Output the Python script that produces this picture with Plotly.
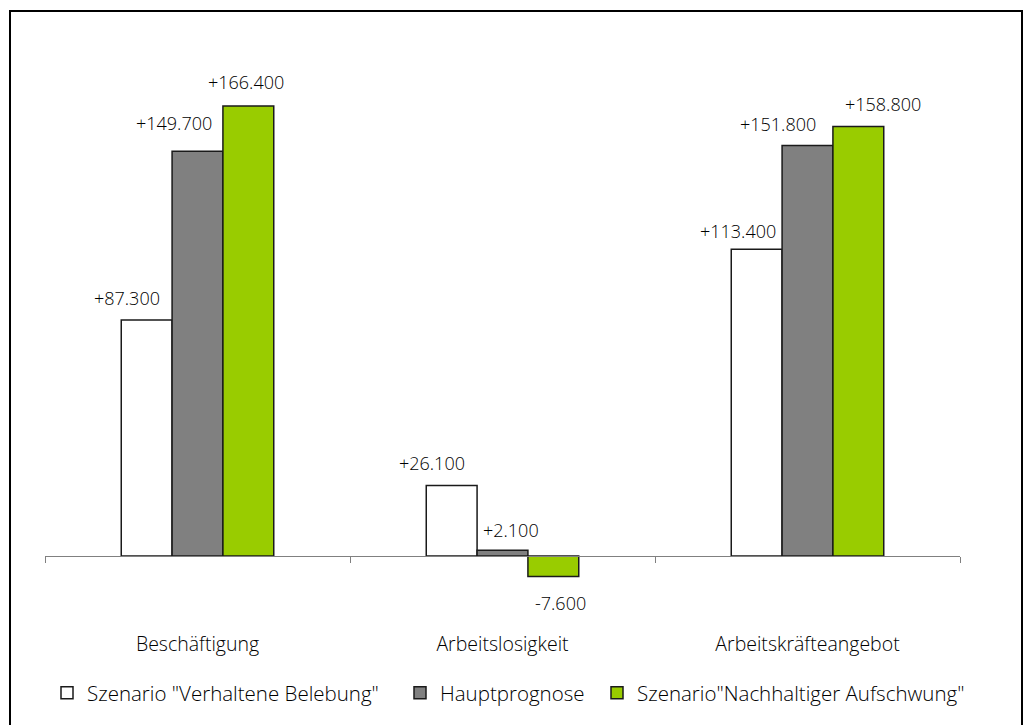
import plotly.graph_objects as go

# Categories and series (change in persons)
categories = ["Beschäftigung", "Arbeitslosigkeit", "Arbeitskräfteangebot"]
series_names = [
    'Szenario "Verhaltene Belebung"',
    "Hauptprognose",
    'Szenario"Nachhaltiger Aufschwung"',
]
verhaltene = [87.3, 26.1, 113.4]
haupt = [149.7, 2.1, 151.8]
nachhaltig = [166.4, -7.6, 158.8]
label_texts = [
    ["+87.300", "+26.100", "+113.400"],
    ["+149.700", "+2.100", "+151.800"],
    ["+166.400", "-7.600", "+158.800"],
]

series_values = [verhaltene, haupt, nachhaltig]
colors = ["#ffffff", "#808080", "#99cc00"]

# Label nudges in pixels (dx from bar centre, dy from bar end) per series/category
label_dx = [[-20, -20, -19], [-24, 8, -30], [-2, 7, 25]]
label_dy = [[22, 22, 18], [28, 20, 22], [24, 26, 23]]
# Left edge (px) of each legend entry
legend_left_px = [47, 400, 597]

FONT = "Open Sans"
FW = 300
W, H = 1025, 725
ML, MR, MT, MB = 45, 65, 40, 125
plot_w = W - ML - MR
plot_h = H - MT - MB
zero_px = 556
px_per_unit = 2.704
y_max = (zero_px - MT) / px_per_unit
y_min = -((H - MB) - zero_px) / px_per_unit
bargap = 0.5
bar_px = plot_w / len(categories) * (1 - bargap) / len(series_values)
value_font = dict(family=FONT, size=18, color="#000000", weight=FW)
cat_font = dict(family=FONT, size=19.5, color="#000000", weight=FW)
legend_font = dict(family=FONT, size=20.5, color="#000000", weight=FW)

fig = go.Figure()
legend_ids = ["legend", "legend2", "legend3"]
for name, vals, col, lg in zip(series_names, series_values, colors, legend_ids):
    fig.add_trace(go.Bar(
        x=categories, y=vals, name=name, legend=lg,
        marker=dict(color=col, line=dict(color="#1a1a1a", width=1.5)),
    ))

annotations = []
for j, (vals, texts) in enumerate(zip(series_values, label_texts)):
    for i, (v, t) in enumerate(zip(vals, texts)):
        sign = 1 if v >= 0 else -1
        annotations.append(dict(
            x=categories[i], y=v, xref="x", yref="y", text=t, showarrow=False,
            xshift=(j - 1) * bar_px + label_dx[j][i],
            yshift=sign * label_dy[j][i],
            xanchor="center", yanchor="middle", font=value_font,
        ))

# Outer frame around the whole chart
frame = dict(
    type="rect", xref="paper", yref="paper",
    x0=(10 - ML) / plot_w, x1=(1022 - ML) / plot_w,
    y0=-(H + 5 - (H - MB)) / plot_h, y1=((H - MB) - 11) / plot_h,
    line=dict(color="#000000", width=2), fillcolor="rgba(0,0,0,0)",
    layer="below",
)

legend_y = -((693) - (H - MB)) / plot_h
legends = {}
for lg, left in zip(legend_ids, legend_left_px):
    legends[lg] = dict(
        orientation="h", x=(left - ML) / plot_w, xanchor="left",
        y=legend_y, yanchor="middle", font=legend_font, itemwidth=30,
        bgcolor="rgba(0,0,0,0)",
    )

fig.update_layout(
    width=W, height=H,
    margin=dict(l=ML, r=MR, t=MT, b=MB),
    paper_bgcolor="white", plot_bgcolor="white",
    barmode="group", bargap=bargap, bargroupgap=0,
    font=value_font,
    showlegend=True,
    xaxis=dict(
        anchor="free", position=(0 - y_min) / (y_max - y_min),
        showline=True, linecolor="#808080", linewidth=1,
        ticks="outside", ticklen=6, tickcolor="#808080", tickson="boundaries",
        ticklabelstandoff=71, tickfont=cat_font,
        showgrid=False, zeroline=False,
    ),
    yaxis=dict(range=[y_min, y_max], visible=False, showgrid=False, zeroline=False),
    annotations=annotations,
    shapes=[frame],
    **legends,
)

fig.write_html("out.html")
